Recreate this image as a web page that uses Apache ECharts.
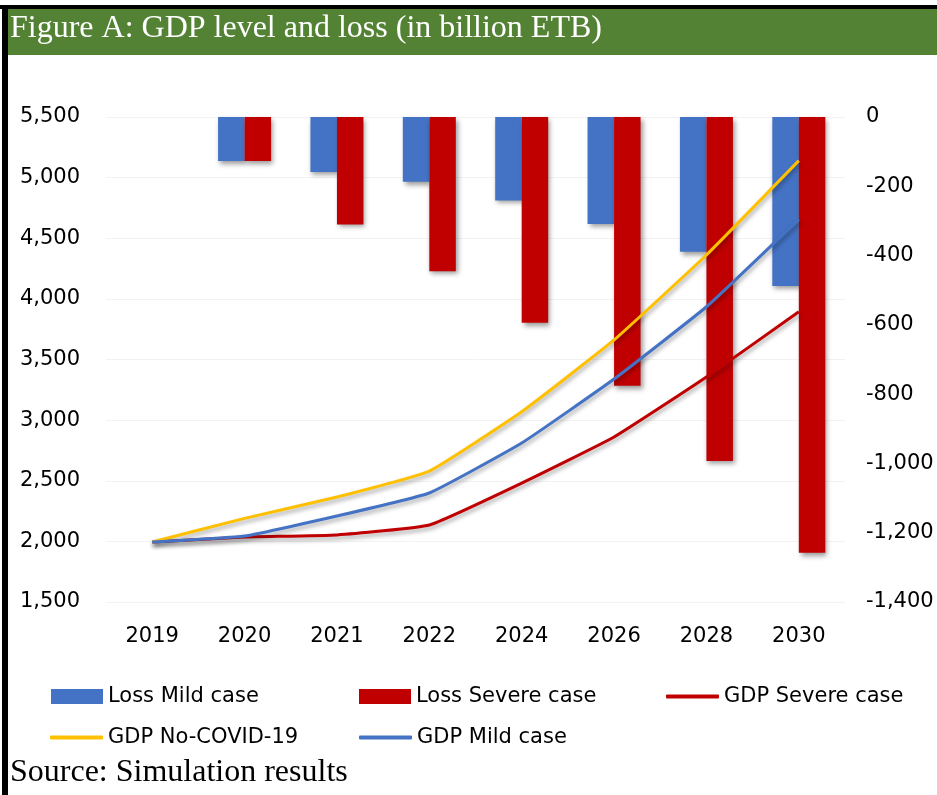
<!DOCTYPE html>
<html>
<head>
<meta charset="utf-8">
<script src="https://cdn.jsdelivr.net/npm/echarts@6/dist/echarts.min.js"></script>
<style>
  html, body { margin: 0; padding: 0; background: #ffffff; }
  #chart { width: 937px; height: 795px; }
</style>
</head>
<body>
<div id="chart"></div>
<script>
// Years shown on the category axis
const years = ['2019', '2020', '2021', '2022', '2024', '2026', '2028', '2030'];

// GDP level, billion ETB (left axis)
const gdpNoCovid = [1995, 2190, 2366, 2580, 3069, 3661, 4362, 5140];
const gdpMild    = [1995, 2044, 2209, 2399, 2811, 3339, 3935, 4656];
const gdpSevere  = [1995, 2036, 2053, 2135, 2481, 2861, 3356, 3894];

// GDP loss against the no-COVID path, billion ETB (right axis)
const lossMild   = [null, -127, -159, -187, -241, -309, -389, -488];
const lossSevere = [null, -127, -310, -445, -594, -776, -993, -1258];

// Axis tick settings
const leftAxisRange  = { min: 1500, max: 5500, step: 500 };
const rightAxisRange = { min: -1400, max: 0, step: 200 };

const BLUE = '#4472C4';
const RED = '#C00000';
const GOLD = '#FFC000';
const LABEL_FONT = '"DejaVu Sans", "Open Sans", sans-serif';
const LABEL_SIZE = 21;
const SERIF = '32px "Liberation Serif", "Times New Roman", serif';

const fmt = v => Number(v).toLocaleString('en-US');

const barShadow = {
  shadowBlur: 5,
  shadowColor: 'rgba(0,0,0,0.4)',
  shadowOffsetX: 2,
  shadowOffsetY: 3
};
const lineShadow = {
  shadowBlur: 4,
  shadowColor: 'rgba(0,0,0,0.35)',
  shadowOffsetX: 1,
  shadowOffsetY: 3
};

// one legend entry per block so each sits in its own column
function legendAt(name, left, top, isLine) {
  return {
    data: [{ name: name, icon: isLine ? 'roundRect' : 'rect' }],
    left: left,
    top: top,
    padding: 0,
    itemWidth: isLine ? 53 : 52,
    itemHeight: isLine ? 4 : 15,
    itemGap: 0,
    selectedMode: false,
    textStyle: { fontFamily: LABEL_FONT, fontSize: LABEL_SIZE, color: '#000' }
  };
}

const chart = echarts.init(document.getElementById('chart'), null, { renderer: 'canvas' });

chart.setOption({
  animation: false,
  backgroundColor: '#ffffff',
  graphic: [
    // frame
    { type: 'rect', left: 0, top: 5, shape: { width: 937, height: 4 }, style: { fill: '#000' }, z: 10 },
    { type: 'rect', left: 2, top: 5, shape: { width: 6, height: 790 }, style: { fill: '#000' }, z: 10 },
    // title band
    { type: 'rect', left: 8, top: 9, shape: { width: 929, height: 46 }, style: { fill: '#548235' }, z: 9 },
    {
      type: 'text', left: 10, top: 13, z: 11,
      style: { text: 'Figure A: GDP level and loss (in billion ETB)', fill: '#ffffff', font: SERIF }
    },
    {
      type: 'text', left: 10, top: 757, z: 11,
      style: { text: 'Source: Simulation results', fill: '#000000', font: SERIF }
    }
  ],
  legend: [
    legendAt('Loss Mild case', 51, 686, false),
    legendAt('Loss Severe case', 359, 686, false),
    legendAt('GDP Severe case', 666, 686, true),
    legendAt('GDP No-COVID-19', 50, 727, true),
    legendAt('GDP Mild case', 359, 727, true)
  ],
  grid: { left: 106, right: 92, top: 117, bottom: 193, containLabel: false },
  xAxis: {
    type: 'category',
    data: years,
    axisLine: { show: false },
    axisTick: { show: false },
    axisLabel: { color: '#000', fontFamily: LABEL_FONT, fontSize: LABEL_SIZE, margin: 24 }
  },
  yAxis: [
    {
      type: 'value',
      min: leftAxisRange.min, max: leftAxisRange.max, interval: leftAxisRange.step,
      axisLine: { show: false },
      axisTick: { show: false },
      splitLine: { show: true, lineStyle: { color: '#f2f2f2', width: 1 } },
      axisLabel: { color: '#000', fontFamily: LABEL_FONT, fontSize: LABEL_SIZE, margin: 26, formatter: fmt }
    },
    {
      type: 'value',
      position: 'right',
      min: rightAxisRange.min, max: rightAxisRange.max, interval: rightAxisRange.step,
      axisLine: { show: false },
      axisTick: { show: false },
      splitLine: { show: false },
      axisLabel: { color: '#000', fontFamily: LABEL_FONT, fontSize: LABEL_SIZE, margin: 21, formatter: fmt }
    }
  ],
  series: [
    {
      name: 'Loss Mild case', type: 'bar', yAxisIndex: 1, data: lossMild,
      barWidth: 26.5, barGap: '0%',
      itemStyle: Object.assign({ color: BLUE }, barShadow), z: 2
    },
    {
      name: 'Loss Severe case', type: 'bar', yAxisIndex: 1, data: lossSevere,
      barWidth: 26.5, barGap: '0%',
      itemStyle: Object.assign({ color: RED }, barShadow), z: 2
    },
    {
      name: 'GDP Severe case', type: 'line', yAxisIndex: 0, data: gdpSevere,
      symbol: 'none', smooth: 0.12, z: 5,
      itemStyle: { color: RED },
      lineStyle: Object.assign({ color: RED, width: 3 }, lineShadow)
    },
    {
      name: 'GDP No-COVID-19', type: 'line', yAxisIndex: 0, data: gdpNoCovid,
      symbol: 'none', smooth: 0.12, z: 5,
      itemStyle: { color: GOLD },
      lineStyle: Object.assign({ color: GOLD, width: 3 }, lineShadow)
    },
    {
      name: 'GDP Mild case', type: 'line', yAxisIndex: 0, data: gdpMild,
      symbol: 'none', smooth: 0.12, z: 5,
      itemStyle: { color: BLUE },
      lineStyle: Object.assign({ color: BLUE, width: 3 }, lineShadow)
    }
  ]
});
</script>
</body>
</html>
